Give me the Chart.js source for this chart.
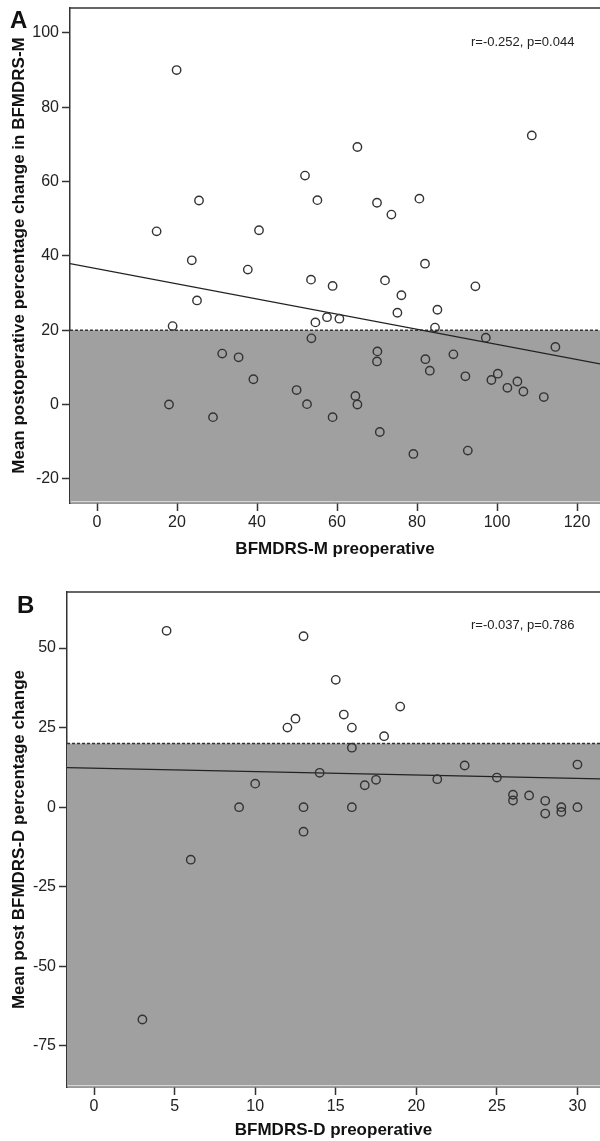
<!DOCTYPE html>
<html>
<head>
<meta charset="utf-8">
<script src="https://cdn.jsdelivr.net/npm/chart.js@4.4.0/dist/chart.umd.min.js"></script>
<style>
  html, body { margin: 0; padding: 0; background: #fff; }
  canvas { display: block; }
</style>
</head>
<body>
<canvas id="chartA" width="600" height="560"></canvas>
<canvas id="chartB" width="600" height="581"></canvas>
<script>
// Panel A - BFMDRS-M
const preopM = [19.9, 25.5, 14.9, 40.5, 23.7, 37.7, 108.7, 65.1, 52.0, 55.1, 70.0, 80.6, 73.6, 82.0, 53.5, 72.0,
  25.0, 18.9, 31.3, 35.4, 39.1, 49.9, 18.0, 29.0, 58.9, 94.6, 76.1, 75.1, 85.1, 54.6, 57.5, 60.6, 84.5, 53.6,
  97.2, 114.6, 70.1, 70.0, 82.1, 89.1, 83.2, 92.1, 100.2, 98.6, 105.1, 102.6, 106.6, 111.7, 52.5, 64.6, 65.1,
  58.9, 70.7, 79.1, 92.7];
const changeM = [90.0, 54.9, 46.6, 46.9, 38.8, 36.3, 72.4, 69.3, 61.6, 55.0, 54.3, 55.4, 51.1, 37.9, 33.6, 33.4,
  28.0, 21.1, 13.7, 12.7, 6.8, 3.9, 0.0, -3.4, 31.9, 31.8, 29.4, 24.7, 25.5, 22.1, 23.5, 23.1, 20.7, 17.8,
  18.0, 15.5, 14.3, 11.6, 12.2, 13.5, 9.1, 7.6, 8.3, 6.6, 6.2, 4.5, 3.5, 2.0, 0.1, 2.3, 0.0,
  -3.4, -7.4, -13.3, -12.4];
const xRangeA = [-6.75, 125.75];
const yRangeA = [-26.5, 106.7];
const xTicksA = [0, 20, 40, 60, 80, 100, 120];
const yTicksA = [-20, 0, 20, 40, 60, 80, 100];
const fitLineA = [37.9, 10.95];   // fit value at left / right edge

// Panel B - BFMDRS-D
const preopD = [4.5, 12.0, 12.5, 10.0, 9.0, 6.0, 13.0, 15.0, 15.5, 16.0, 19.0, 18.0, 16.0, 14.0, 23.0, 30.0,
  16.8, 17.5, 21.3, 25.0, 13.0, 16.0, 13.0, 26.0, 26.0, 27.0, 28.0, 28.0, 29.0, 29.0, 30.0, 3.0];
const changeD = [55.4, 25.0, 27.8, 7.4, 0.0, -16.5, 53.7, 40.0, 29.1, 25.0, 31.6, 22.3, 18.7, 10.8, 13.1, 13.4,
  6.9, 8.6, 8.8, 9.3, 0.0, 0.0, -7.7, 3.9, 2.1, 3.7, 2.0, -2.0, 0.0, -1.5, 0.0, -66.7];
const xRangeB = [-1.68, 31.4];
const yRangeB = [-87.9, 67.6];
const xTicksB = [0, 5, 10, 15, 20, 25, 30];
const yTicksB = [-75, -50, -25, 0, 25, 50];
const fitLineB = [12.4, 8.9];

const responseCut = 20;  // 20% improvement threshold

const FONT = '"Liberation Sans", Arial, Helvetica, sans-serif';
const INK = '#333';

// top frame line + panel letter + r/p text
const framePlugin = {
  id: 'frame',
  afterDraw(chart, args, opts) {
    const { ctx, chartArea: a } = chart;
    ctx.save();
    // thin light edge at bottom of grey band
    ctx.strokeStyle = '#d8d8d8';
    ctx.lineWidth = 1;
    ctx.beginPath();
    ctx.moveTo(a.left + 1, a.bottom - 1.5);
    ctx.lineTo(a.right, a.bottom - 1.5);
    ctx.stroke();

    ctx.strokeStyle = INK;
    ctx.lineWidth = 1.5;
    ctx.beginPath();
    ctx.moveTo(a.left, a.top);
    ctx.lineTo(a.right, a.top);
    ctx.stroke();

    ctx.fillStyle = '#111';
    ctx.textBaseline = 'alphabetic';
    ctx.font = 'bold 24px ' + FONT;
    ctx.fillText(opts.letter, opts.letterX, opts.letterY);
    ctx.font = '13px ' + FONT;
    ctx.fillStyle = '#222';
    ctx.fillText(opts.stat, opts.statX, opts.statY);
    ctx.restore();
  }
};

function makePanel(id, p) {
  const pts = p.xs.map((x, i) => ({ x, y: p.ys[i] }));
  const [x0, x1] = p.xRange;

  const axisCommon = {
    type: 'linear',
    z: 1,
    grid: { drawOnChartArea: false, drawTicks: true, tickLength: 8, tickWidth: 1.5, tickColor: INK },
    border: { display: true, color: INK, width: 1.5 },
  };

  return new Chart(document.getElementById(id), {
    type: 'scatter',
    data: {
      datasets: [
        {
          label: 'points',
          data: pts,
          pointStyle: 'circle',
          pointRadius: 4.2,
          pointBorderWidth: 1.4,
          borderColor: INK,
          backgroundColor: 'rgba(0,0,0,0)',
          order: 0
        },
        {
          type: 'line',
          label: 'fit',
          data: [{ x: x0, y: p.fit[0] }, { x: x1, y: p.fit[1] }],
          borderColor: '#222',
          borderWidth: 1.2,
          pointRadius: 0,
          fill: false,
          order: 1
        },
        {
          type: 'line',
          label: 'cut',
          data: [{ x: x0, y: responseCut }, { x: x1, y: responseCut }],
          borderColor: INK,
          borderWidth: 1.5,
          borderDash: [3, 2],
          backgroundColor: '#a0a0a0',
          pointRadius: 0,
          fill: 'start',
          order: 2
        }
      ]
    },
    options: {
      responsive: false,
      animation: false,
      events: [],
      layout: { autoPadding: false, padding: { top: p.top, left: 0, right: 0, bottom: 0 } },
      plugins: {
        legend: { display: false },
        tooltip: { enabled: false },
        frame: p.frame
      },
      scales: {
        x: {
          ...axisCommon,
          min: x0,
          max: x1,
          afterBuildTicks: s => { s.ticks = p.xTicks.map(v => ({ value: v })); },
          afterFit: s => { s.height = p.xAxisH; s.paddingLeft = 0; s.paddingRight = 0; },
          ticks: { font: { size: 16, family: FONT }, color: '#222', padding: 2, maxRotation: 0 },
          title: {
            display: true, text: p.xTitle, color: '#111',
            font: { size: 17, weight: 'bold', family: FONT },
            padding: { top: p.xTitlePad, bottom: 0 }
          }
        },
        y: {
          ...axisCommon,
          min: p.yRange[0],
          max: p.yRange[1],
          afterBuildTicks: s => { s.ticks = p.yTicks.map(v => ({ value: v })); },
          afterFit: s => { s.width = p.yAxisW; s.paddingTop = 0; s.paddingBottom = 0; },
          ticks: { font: { size: 16, family: FONT }, color: '#222', padding: 3 },
          title: {
            display: true, text: p.yTitle, color: '#111',
            font: { size: 17, weight: 'bold', family: FONT },
            padding: { top: 9, bottom: 0 }
          }
        }
      }
    },
    plugins: [framePlugin]
  });
}

makePanel('chartA', {
  xs: preopM, ys: changeM, fit: fitLineA,
  xRange: xRangeA, yRange: yRangeA, xTicks: xTicksA, yTicks: yTicksA,
  top: 8, xAxisH: 57, yAxisW: 70, xTitlePad: 12,
  xTitle: 'BFMDRS-M preoperative',
  yTitle: 'Mean postoperative percentage change in BFMDRS-M',
  frame: { letter: 'A', letterX: 10, letterY: 28, stat: 'r=-0.252, p=0.044', statX: 471, statY: 46 }
});

makePanel('chartB', {
  xs: preopD, ys: changeD, fit: fitLineB,
  xRange: xRangeB, yRange: yRangeB, xTicks: xTicksB, yTicks: yTicksB,
  top: 32, xAxisH: 54, yAxisW: 67, xTitlePad: 0,
  xTitle: 'BFMDRS-D preoperative',
  yTitle: 'Mean post BFMDRS-D percentage change',
  frame: { letter: 'B', letterX: 17, letterY: 53, stat: 'r=-0.037, p=0.786', statX: 471, statY: 69 }
});
</script>
</body>
</html>
